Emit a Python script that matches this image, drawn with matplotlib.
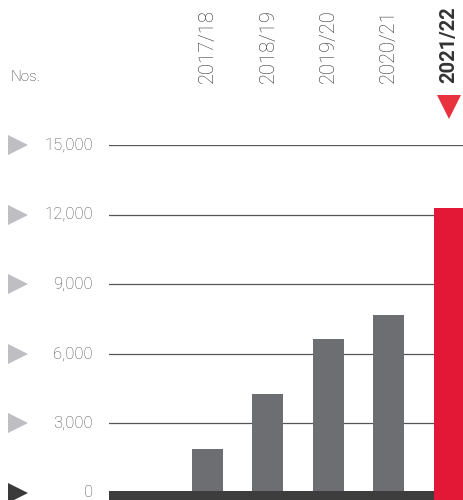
import matplotlib.pyplot as plt
import matplotlib.transforms as mtransforms

plt.rcParams['font.family'] = ['Roboto', 'DejaVu Sans']

years = ['2017/18', '2018/19', '2019/20', '2020/21', '2021/22']
values = [1890, 4270, 6640, 7670, 12270]
ticks = [0, 3000, 6000, 9000, 12000, 15000]

grey_bar = '#6d6e71'
red = '#e31837'
ymin = -306

fig = plt.figure(figsize=(4.64, 5.0), dpi=100)
ax = fig.add_axes([109 / 464, 0, 355 / 464, 355 / 500])
ax.set_xlim(-1.631, 4.247)
ax.set_ylim(ymin, 15000)

# gridlines
for t in ticks[1:]:
    ax.axhline(t, color='#555555', lw=0.9, zorder=1)

x = list(range(len(years)))
ax.bar(x[:-1], values[:-1], width=0.513, color=grey_bar, zorder=2)
# thick baseline
ax.axhspan(ymin, 95, color='#3d3d3d', lw=0, zorder=3)
# latest year highlighted in red, running over the baseline
ax.bar(x[-1], values[-1] - ymin, bottom=ymin, width=0.513, color=red, zorder=4)

ax.axis('off')

# y tick labels and arrow markers on the left
lab_tr = mtransforms.blended_transform_factory(fig.transFigure, ax.transData)
for t in ticks:
    ax.text(93 / 464, t, f'{t:,}', transform=lab_tr, ha='right', va='center',
            fontsize=12, fontweight='light', color='#505050')
    ax.plot([18 / 464], [t], marker='>', markersize=15, transform=lab_tr,
            clip_on=False, lw=0, markeredgewidth=0,
            color='#3a3a3a' if t == 0 else '#bfbfc3')

fig.text(10 / 464, 1 - 77 / 500, 'Nos.', ha='left', va='center',
         fontsize=11, fontweight='light', color='#333333')

# year labels above the bars
top_tr = mtransforms.blended_transform_factory(ax.transData, fig.transFigure)
for i, yr in enumerate(years):
    last = i == len(years) - 1
    ax.text(i, 1 - 83 / 500, yr, transform=top_tr, rotation=90,
            ha='center', va='bottom', fontsize=14.5,
            fontweight='bold' if last else 'light',
            color='#333333' if last else '#2e2e2e')

# red pointer above the current year
ax.plot([x[-1]], [1 - 107 / 500], marker='v', markersize=17, transform=top_tr,
        clip_on=False, lw=0, markeredgewidth=0, color='#e8333f')

fig.savefig('out.png', dpi=100)
